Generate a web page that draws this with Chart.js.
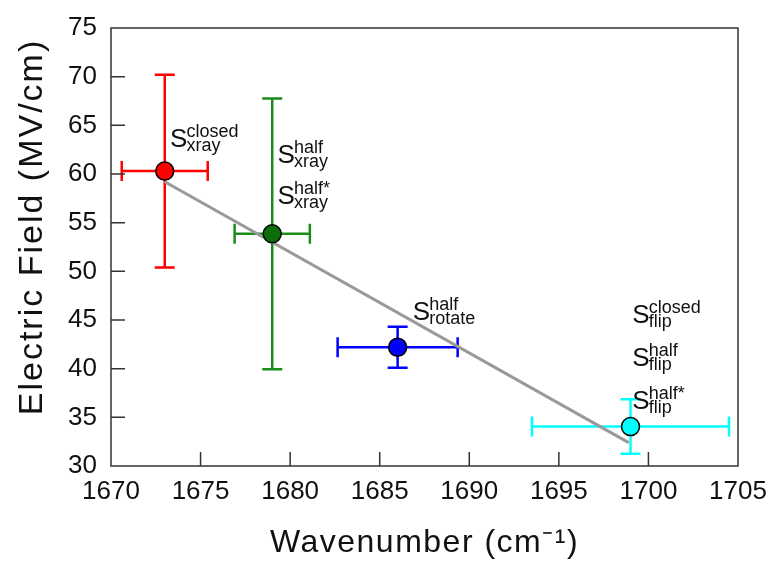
<!DOCTYPE html>
<html>
<head>
<meta charset="utf-8">
<script src="https://cdn.jsdelivr.net/npm/chart.js@4/dist/chart.umd.min.js"></script>
<style>
html,body{margin:0;padding:0;background:#fff;}
#wrap{width:769px;height:562px;}
</style>
</head>
<body>
<div id="wrap"><canvas id="c" width="769" height="562"></canvas></div>
<script>
// ---- data ----
const wavenumber = [1673, 1679, 1686, 1699];
const field      = [60.3, 53.85, 42.2, 34.05];
const xErr       = [2.4, 2.1, 3.35, 5.5];
const yErr       = [9.9, 13.9, 2.1, 2.8];
const pointColors = ['#ff0000', '#0b6e0b', '#0000ff', '#00ffff'];
const barColors   = ['#ff0000', '#1a8c1a', '#0000ff', '#00ffff'];
const fitX = [1673.0, 1698.9];
const fitY = [59.2, 32.4];
const xTicks = [1670, 1675, 1680, 1685, 1690, 1695, 1700, 1705];
const yTicks = [30, 35, 40, 45, 50, 55, 60, 65, 70, 75];
const labelMain = ['S', 'S', 'S', 'S', 'S', 'S', 'S'];
const labelSup  = ['closed', 'half', 'half*', 'half', 'closed', 'half', 'half*'];
const labelSub  = ['xray', 'xray', 'xray', 'rotate', 'flip', 'flip', 'flip'];
const labelX    = [1673.3, 1679.3, 1679.3, 1686.85, 1699.1, 1699.1, 1699.1];
const labelY    = [62.75, 61.1, 56.9, 45.05, 44.7, 40.3, 35.9];

const FONT = "'Liberation Sans', Arial, Helvetica, sans-serif";

const errorBars = {
  id: 'errorBars',
  beforeDatasetsDraw(chart) {
    const {ctx, scales: {x, y}} = chart;
    ctx.save();
    ctx.lineWidth = 2.5;
    const cap = 10;
    for (let i = 0; i < wavenumber.length; i++) {
      ctx.strokeStyle = barColors[i];
      const px = x.getPixelForValue(wavenumber[i]);
      const py = y.getPixelForValue(field[i]);
      const x0 = x.getPixelForValue(wavenumber[i] - xErr[i]);
      const x1 = x.getPixelForValue(wavenumber[i] + xErr[i]);
      const y0 = y.getPixelForValue(field[i] - yErr[i]);
      const y1 = y.getPixelForValue(field[i] + yErr[i]);
      ctx.beginPath();
      ctx.moveTo(x0, py); ctx.lineTo(x1, py);
      ctx.moveTo(x0, py - cap); ctx.lineTo(x0, py + cap);
      ctx.moveTo(x1, py - cap); ctx.lineTo(x1, py + cap);
      ctx.moveTo(px, y0); ctx.lineTo(px, y1);
      ctx.moveTo(px - cap, y0); ctx.lineTo(px + cap, y0);
      ctx.moveTo(px - cap, y1); ctx.lineTo(px + cap, y1);
      ctx.stroke();
    }
    ctx.restore();
  }
};

const frame = {
  id: 'frame',
  afterDraw(chart) {
    const {ctx, chartArea: a, scales: {x, y}} = chart;
    ctx.save();
    ctx.strokeStyle = '#333';
    ctx.lineWidth = 1.5;
    ctx.strokeRect(a.left, a.top, a.right - a.left, a.bottom - a.top);
    ctx.beginPath();
    const tl = 14;
    xTicks.forEach(v => {
      if (v === xTicks[0] || v === xTicks[xTicks.length - 1]) return;
      const p = x.getPixelForValue(v);
      ctx.moveTo(p, a.bottom); ctx.lineTo(p, a.bottom - tl);
    });
    yTicks.forEach(v => {
      if (v === yTicks[0] || v === yTicks[yTicks.length - 1]) return;
      const p = y.getPixelForValue(v);
      ctx.moveTo(a.left, p); ctx.lineTo(a.left + tl, p);
    });
    ctx.stroke();
    ctx.restore();
  }
};

const labels = {
  id: 'labels',
  afterDatasetsDraw(chart) {
    const {ctx, scales: {x, y}} = chart;
    ctx.save();
    ctx.fillStyle = '#111';
    ctx.textBaseline = 'alphabetic';
    ctx.textAlign = 'left';
    for (let i = 0; i < labelMain.length; i++) {
      const px = x.getPixelForValue(labelX[i]);
      const py = y.getPixelForValue(labelY[i]);
      ctx.font = '26px ' + FONT;
      ctx.fillText(labelMain[i], px, py);
      const w = ctx.measureText(labelMain[i]).width;
      ctx.font = '18px ' + FONT;
      ctx.fillText(labelSup[i], px + w - 1, py - 10);
      ctx.fillText(labelSub[i], px + w - 1, py + 4);
    }
    ctx.restore();
  }
};

function spacedTitle(spacing, dx, dy) {
  return function(scale) {
    if (!scale._spacedPatched) {
      const orig = scale.drawTitle;
      scale.drawTitle = function() {
        const ctx = this.ctx;
        ctx.save();
        ctx.letterSpacing = spacing;
        ctx.translate(dx, dy);
        orig.apply(this, arguments);
        ctx.restore();
      };
      scale._spacedPatched = true;
    }
  };
}

new Chart(document.getElementById('c'), {
  type: 'scatter',
  data: {
    datasets: [
      {
        label: 'Data',
        data: wavenumber.map((v, i) => ({x: v, y: field[i]})),
        pointBackgroundColor: pointColors,
        pointBorderColor: '#000',
        pointBorderWidth: 1.5,
        pointRadius: 9,
        showLine: false
      },
      {
        label: 'Fit',
        type: 'line',
        data: fitX.map((v, i) => ({x: v, y: fitY[i]})),
        borderColor: '#999999',
        borderWidth: 3,
        pointRadius: 0,
        fill: false
      }
    ]
  },
  options: {
    responsive: false,
    animation: false,
    devicePixelRatio: 1,
    layout: {padding: {left: 0, right: 31, top: 28, bottom: 0}},
    plugins: {legend: {display: false}, tooltip: {enabled: false}},
    scales: {
      x: {
        type: 'linear', min: 1670, max: 1705,
        afterBuildTicks(s) { s.ticks = xTicks.map(v => ({value: v})); },
        afterFit(s) { s.height = 96; s.paddingLeft = 0; s.paddingRight = 0; spacedTitle('1.5px', 0, 0)(s); },
        grid: {display: false, drawTicks: false},
        border: {display: false},
        ticks: {color: '#111', font: {family: FONT, size: 26}, padding: 10, maxRotation: 0,
                callback: v => String(v)},
        title: {display: true, text: 'Wavenumber (cm\u207B\u00B9)', color: '#111',
                font: {family: FONT, size: 32}, padding: {top: 0, bottom: 0}}
      },
      y: {
        type: 'linear', min: 30, max: 75,
        afterBuildTicks(s) { s.ticks = yTicks.map(v => ({value: v})); },
        afterFit(s) { s.width = 111; s.paddingTop = 0; s.paddingBottom = 0; spacedTitle('2px', 0, -20)(s); },
        grid: {display: false, drawTicks: false},
        border: {display: false},
        ticks: {color: '#111', font: {family: FONT, size: 26}, padding: 14,
                callback: v => String(v)},
        title: {display: true, text: 'Electric Field (MV/cm)', color: '#111',
                font: {family: FONT, size: 34}, padding: {top: 12, bottom: 0}}
      }
    }
  },
  plugins: [errorBars, labels, frame]
});
</script>
</body>
</html>
